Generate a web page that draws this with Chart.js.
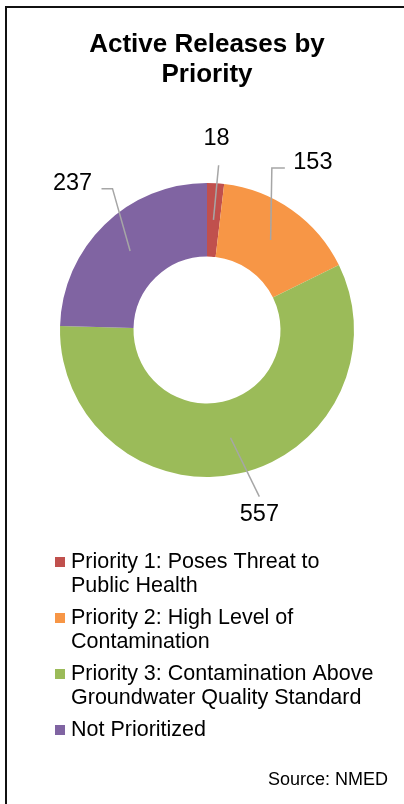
<!DOCTYPE html>
<html>
<head>
<meta charset="utf-8">
<script src="https://cdn.jsdelivr.net/npm/chart.js@4/dist/chart.umd.min.js"></script>
<style>
  html, body { margin: 0; padding: 0; background: #fff; }
  #caja { position: relative; width: 404px; height: 804px; overflow: hidden; }
  #marco {
    position: absolute; left: 5px; top: 6px; width: 420px; height: 820px;
    border-left: 2px solid #111; border-top: 2px solid #111;
    pointer-events: none;
  }
</style>
</head>
<body>
<div id="caja">
  <canvas id="grafico"></canvas>
  <div id="marco"></div>
</div>
<script>
const FUENTE = "'Liberation Sans', Arial, sans-serif";

const categorias = [
  ['Priority 1: Poses Threat to', 'Public Health'],
  ['Priority 2: High Level of', 'Contamination'],
  ['Priority 3: Contamination Above', 'Groundwater Quality Standard'],
  ['Not Prioritized']
];
const valores = [18, 153, 557, 237];
const colores = ['#C0504D', '#F79646', '#9BBB59', '#8064A2'];

// donde va cada etiqueta respecto al borde exterior del sector
const desplazamientos = [[1, -45], [21, -47], [21, 41], [-32, -41]];
// quiebres de la linea guia, relativos al centro del texto
const quiebres = [
  [[2, 27]],
  [[-41, 5], [-28, 5]],
  [[0, -18]],
  [[40, 5], [29, 5]]
];

const ctx = document.getElementById("grafico");

const etiquetas = {
  id: 'etiquetas',
  afterDatasetsDraw(chart) {
    const c = chart.ctx;
    const meta = chart.getDatasetMeta(0);
    c.save();
    meta.data.forEach((arco, i) => {
      const { x, y, startAngle, endAngle, innerRadius, outerRadius } = arco.getProps(['x', 'y', 'startAngle', 'endAngle', 'innerRadius', 'outerRadius'], true);
      const medio = (startAngle + endAngle) / 2;
      const rMedio = (innerRadius + outerRadius) / 2;
      const ax = x + Math.cos(medio) * rMedio;
      const ay = y + Math.sin(medio) * rMedio;
      const tx = x + Math.cos(medio) * outerRadius + desplazamientos[i][0];
      const ty = y + Math.sin(medio) * outerRadius + desplazamientos[i][1];

      c.strokeStyle = '#A6A6A6';
      c.lineWidth = 1.5;
      c.beginPath();
      c.moveTo(ax, ay);
      quiebres[i].forEach(p => c.lineTo(tx + p[0], ty + p[1]));
      c.stroke();

      c.fillStyle = '#000';
      c.font = '23.5px ' + FUENTE;
      c.textAlign = 'center';
      c.textBaseline = 'middle';
      c.fillText(String(valores[i]), tx, ty);
    });
    c.restore();
  }
};

const leyenda = {
  id: 'leyenda',
  afterDraw(chart) {
    const c = chart.ctx;
    c.save();
    c.font = '21.5px ' + FUENTE;
    c.textAlign = 'left';
    c.textBaseline = 'middle';
    let yy = chart.chartArea.bottom + 85;
    categorias.forEach((lineas, i) => {
      c.fillStyle = colores[i];
      c.fillRect(55, yy - 5, 10, 10);
      c.fillStyle = '#000';
      lineas.forEach((t, j) => {
        c.fillText(t, 71, yy);
        if (j < lineas.length - 1) yy += 24;
      });
      yy += 32;
    });

    c.font = '18px ' + FUENTE;
    c.textAlign = 'right';
    c.fillText('Source: NMED', 388, 780);
    c.restore();
  }
};

new Chart(ctx, {
  type: 'doughnut',
  data: {
    labels: categorias.map(l => l.join(' ')),
    datasets: [{
      data: valores,
      backgroundColor: colores,
      borderWidth: 0
    }]
  },
  options: {
    responsive: true,
    maintainAspectRatio: false,
    animation: false,
    cutout: '50%',
    layout: {
      padding: { left: 60, right: 50, top: 0, bottom: 327 }
    },
    plugins: {
      legend: { display: false },
      tooltip: { enabled: false },
      title: {
        display: true,
        text: ['Active Releases by', 'Priority'],
        color: '#000',
        font: { family: FUENTE, size: 26, weight: 'bold', lineHeight: '30px' },
        padding: { top: 30, bottom: 93 }
      }
    }
  },
  plugins: [etiquetas, leyenda]
});
</script>
</body>
</html>
